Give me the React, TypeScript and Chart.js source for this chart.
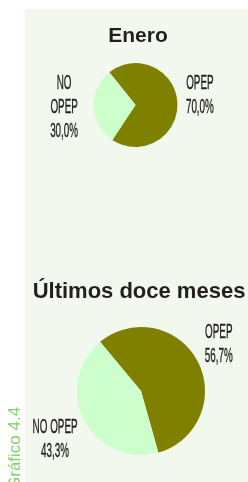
import React, { useEffect, useRef } from "react";
import { Chart, registerables } from "chart.js";

Chart.register(...registerables);

// ---- data ----
const categories = ["OPEP", "NO OPEP"];
const eneroValues = [70.0, 30.0];
const doceMesesValues = [56.7, 43.3];
const eneroTitle = "Enero";
const doceMesesTitle = "Últimos doce meses";
const sideNote = "Gráfico 4.4";

// ---- styles ----
const sliceColors = ["#808000", "#ccffcc"];
const panelColor = "#f3f8ee";
const titleColor = "#231f20";
const labelColor = "#231f20";

const fmt = (v: number) => v.toFixed(1).replace(".", ",") + "%";

const sliceLabels = {
  id: "sliceLabels",
  afterDraw(chart: any, _args: any, opts: any) {
    const ctx = chart.ctx;
    // title
    ctx.save();
    ctx.fillStyle = opts.titleColor;
    ctx.font = `bold ${opts.titleSize}px 'Liberation Sans', Arial, sans-serif`;
    ctx.textAlign = "center";
    ctx.textBaseline = "alphabetic";
    ctx.fillText(opts.title, chart.width / 2 + opts.titleShift, opts.titleBaseline);
    ctx.restore();

    const meta = chart.getDatasetMeta(0);
    const values = chart.data.datasets[0].data as number[];
    const labels = chart.data.labels as string[];
    ctx.save();
    ctx.fillStyle = opts.color;
    ctx.strokeStyle = opts.color;
    ctx.lineWidth = opts.stroke;
    ctx.lineJoin = "round";
    ctx.font = `${opts.weight} ${opts.size}px ${opts.family}`;
    ctx.textAlign = "center";
    ctx.textBaseline = "middle";
    meta.data.forEach((arc: any, i: number) => {
      const p = arc.getProps(["x", "y", "startAngle", "endAngle", "outerRadius"], true);
      const mid = (p.startAngle + p.endAngle) / 2 + ((opts.shift[i] || 0) * Math.PI) / 180;
      const d = p.outerRadius * opts.distance[i];
      const cx = p.x + Math.cos(mid) * d;
      const cy = p.y + Math.sin(mid) * d;
      const name = String(labels[i]);
      const lines = (opts.wrap ? name.split(" ") : [name]).concat(fmt(values[i]));
      const n = lines.length;
      lines.forEach((line: string, j: number) => {
        const ly = cy + (j - (n - 1) / 2) * opts.lineHeight;
        ctx.save();
        ctx.translate(cx, ly);
        ctx.scale(opts.squeeze, 1);
        ctx.fillText(line, 0, 0);
        if (opts.stroke > 0) ctx.strokeText(line, 0, 0);
        ctx.restore();
      });
    });
    ctx.restore();
  },
};

type PieProps = {
  values: number[];
  rotation: number;
  left: number;
  top: number;
  width: number;
  height: number;
  padding: { left: number; right: number; top: number; bottom: number };
  label: any;
};

function PieChart(props: PieProps) {
  const ref = useRef<HTMLCanvasElement | null>(null);
  useEffect(() => {
    if (!ref.current) return;
    const chart = new Chart(ref.current, {
      type: "pie",
      data: {
        labels: categories,
        datasets: [
          {
            data: props.values,
            backgroundColor: sliceColors,
            borderWidth: 0,
          },
        ],
      },
      options: {
        responsive: false,
        animation: false,
        devicePixelRatio: 1,
        rotation: props.rotation,
        layout: { padding: props.padding },
        plugins: {
          legend: { display: false },
          tooltip: { enabled: false },
          title: { display: false },
          sliceLabels: props.label,
        } as any,
      },
      plugins: [sliceLabels as any],
    });
    return () => chart.destroy();
  }, []);
  return (
    <canvas
      ref={ref}
      width={props.width}
      height={props.height}
      style={{ position: "absolute", left: props.left, top: props.top, width: props.width, height: props.height }}
    />
  );
}

const labelFont = {
  color: labelColor,
  size: 21,
  weight: "normal",
  stroke: 0.4,
  family: "'Liberation Sans', Arial, sans-serif",
  squeeze: 0.47,
  lineHeight: 24,
  titleColor: titleColor,
};

export default function App() {
  return (
    <div
      style={{
        position: "fixed",
        left: 0,
        top: 0,
        width: 248,
        height: 482,
        overflow: "hidden",
        background: "#ffffff",
      }}
    >
      <div style={{ position: "absolute", left: 25, top: 9, right: 0, bottom: 0, background: panelColor }} />
      <PieChart
        values={eneroValues}
        rotation={-38.5}
        left={25}
        top={9}
        width={223}
        height={160}
        padding={{ left: 68.5, right: 70.5, top: 54, bottom: 22 }}
        label={{
          ...labelFont,
          title: eneroTitle,
          titleSize: 21,
          titleBaseline: 33,
          titleShift: 1.5,
          wrap: true,
          distance: [1.55, 1.7],
          shift: [-6, 1],
        }}
      />
      <PieChart
        values={doceMesesValues}
        rotation={-39.8}
        left={25}
        top={260}
        width={223}
        height={222}
        padding={{ left: 52, right: 43, top: 67, bottom: 27 }}
        label={{
          ...labelFont,
          title: doceMesesTitle,
          titleSize: 22,
          titleBaseline: 38,
          titleShift: 2.5,
          wrap: false,
          distance: [1.42, 1.54],
          shift: [-3.4, -1.6],
        }}
      />
      <div
        style={{
          position: "absolute",
          left: 6,
          top: 490,
          transform: "rotate(-90deg)",
          transformOrigin: "0 0",
          whiteSpace: "nowrap",
          fontFamily: "'Liberation Sans', Arial, sans-serif",
          fontSize: 17,
          lineHeight: "17px",
          color: "#86cf6a",
        }}
      >
        {sideNote}
      </div>
    </div>
  );
}
